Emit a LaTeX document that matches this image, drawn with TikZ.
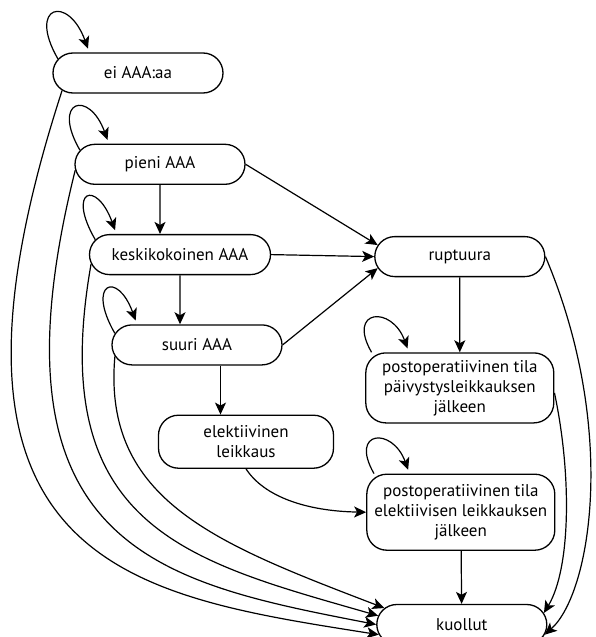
\documentclass[tikz,border=0pt]{standalone}
\usepackage{fontspec}
\setmainfont{PT Sans}
\usetikzlibrary{shapes.misc,arrows.meta,positioning}

\begin{document}
\begin{tikzpicture}[
    state/.style={rounded rectangle, draw, line width=1.3pt, minimum width=174pt, minimum height=40pt, inner sep=2pt, font=\fontsize{17}{20}\selectfont},
    postop/.style={rectangle, draw, line width=1.3pt, rounded corners=20pt, minimum width=188pt, minimum height=70pt, align=center, inner sep=2pt, font=\fontsize{17}{20}\selectfont},
    arr/.style={->, line width=1.2pt, >={Stealth[length=12pt,width=11pt,inset=3pt]}},
    selfarr/.style={arr, shorten >=4pt},
    node distance=49pt
]
    \useasboundingbox (-138pt,73pt) rectangle (457pt,-564pt);

    % Left column — AAA stages
    \node[state]                                          (ei)     {ei AAA:aa};
    \node[state, below=50pt of ei, xshift=22pt]           (pieni)  {pieni AAA};
    \node[state, minimum width=185pt, below=of pieni, xshift=20pt] (kesk) {keskikokoinen AAA};
    \node[state, below=of kesk, xshift=17pt]              (suuri)  {suuri AAA};
    \node[postop, minimum width=175pt, minimum height=53pt, below=of suuri, xshift=49pt] (elekt) {elektiivinen\\leikkaus};

    % Right column — rupture and aftermath
    \node[state, right=103pt of kesk, yshift=-2pt]        (ruptuura) {ruptuura};
    \node[postop, below=75pt of ruptuura]                 (postop1)  {postoperatiivinen tila\\päivystysleikkauksen\\jälkeen};
    \node[postop, minimum height=76pt, below=50pt of postop1, xshift=1pt] (postop2) {postoperatiivinen tila\\elektiivisen leikkauksen\\jälkeen};
    \node[state, below=53pt of postop2, xshift=1pt]       (kuollut)  {kuollut};

    % Self loops
    \draw[selfarr] (ei.170)    to[out=120, in=110, distance=62pt] (ei.157);
    \draw[selfarr] (pieni.170) to[out=120, in=110, distance=58pt] (pieni.158);
    \draw[selfarr] (kesk.170)  to[out=120, in=110, distance=58pt] (kesk.162);
    \draw[selfarr] (suuri.172) to[out=120, in=110, distance=58pt] (suuri.161);
    \draw[selfarr] (postop1.158) to[out=120, in=110, distance=50pt] (postop1.145);
    \draw[selfarr] (postop2.156) to[out=120, in=110, distance=50pt] (postop2.143);

    % Progression
    \draw[arr] (pieni) -- (pieni |- kesk.north);
    \draw[arr] (kesk) -- (kesk |- suuri.north);
    \draw[arr] ([xshift=23.5pt]suuri.south) -- ([xshift=23.5pt]suuri.south |- elekt.north);

    % To rupture
    \draw[arr] (pieni.east) -- (ruptuura.172);
    \draw[arr] (kesk.east)  -- (ruptuura.west);
    \draw[arr] (suuri.east) -- (ruptuura.188);

    % After surgery
    \draw[arr] (ruptuura) -- (postop1);
    \draw[arr] (elekt.south) to[out=-57, in=179, out distance=33pt, in distance=60pt] (postop2.west);
    \draw[arr] (postop2) -- (kuollut);

    % Deaths
    \draw[arr] (ei.193)    to[out=-108, in=171, out distance=500pt, in distance=250pt] (kuollut.187);
    \draw[arr] (pieni.184) to[out=-104, in=169, out distance=390pt, in distance=219pt] (kuollut.180);
    \draw[arr] (kesk.186)  to[out=-100, in=164, out distance=268pt, in distance=198pt] (kuollut.174);
    \draw[arr] (suuri.188) to[out=-95, in=159, out distance=145pt, in distance=179pt] (kuollut.168);
    \draw[arr] (ruptuura.east) to[out=-67, in=42, out distance=185pt, in distance=63pt] (kuollut.-7);
    \draw[arr] (postop1.-3) to[out=-78, in=59, out distance=84pt, in distance=52pt] (kuollut.8);

\end{tikzpicture}
\end{document}
